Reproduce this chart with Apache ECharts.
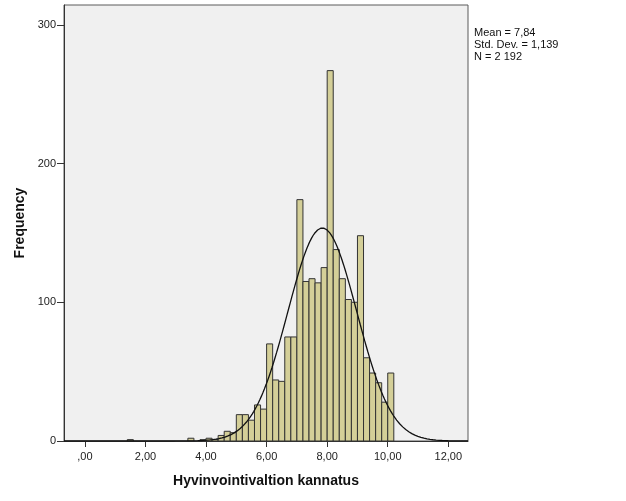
<!DOCTYPE html>
<html>
<head>
<meta charset="utf-8">
<script src="https://cdn.jsdelivr.net/npm/echarts@6/dist/echarts.min.js"></script>
<style>
html,body{margin:0;padding:0;background:#fff;}
#chart{width:626px;height:501px;}
</style>
</head>
<body>
<div id="chart"></div>
<script>
// Histogram bins (start of each 0.2-wide bin) and frequencies
var binStarts = [1.4, 3.4, 3.8, 4.0, 4.2, 4.4, 4.6, 4.8, 5.0, 5.2, 5.4, 5.6, 5.8, 6.0, 6.2, 6.4, 6.6, 6.8, 7.0, 7.2, 7.4, 7.6, 7.8, 8.0, 8.2, 8.4, 8.6, 8.8, 9.0, 9.2, 9.4, 9.6, 9.8, 10.0];
var counts    = [1,   2,   1,   2,   1,   4,   7,   6,   19,  19,  15,  26,  23,  70,  44,  43,  75,  75,  174, 115, 117, 114, 125, 267, 138, 117, 102, 100, 148, 60,  49,  42,  28,  49];
var binWidth = 0.2;

// Summary statistics shown in the chart
var statMean = 7.84;
var statSD = 1.139;
var statN = 2192;

// Tick values and labels
var xTicks = [0, 2, 4, 6, 8, 10, 12];
var xTickLabels = [",00", "2,00", "4,00", "6,00", "8,00", "10,00", "12,00"];
var yTicks = [0, 100, 200, 300];
var yTickLabels = ["0", "100", "200", "300"];

var xMin = -0.69, xMax = 12.65, yMax = 314.3;

var barData = binStarts.map(function (s, i) { return [s, s + binWidth, counts[i]]; });

// Fitted normal curve from the displayed statistics
var curve = [];
for (var k = 0; k <= 266; k++) {
  var x = xMin + k * (xMax - xMin) / 266;
  var z = (x - statMean) / statSD;
  curve.push([x, statN * binWidth / (statSD * Math.sqrt(2 * Math.PI)) * Math.exp(-0.5 * z * z)]);
}

var chart = echarts.init(document.getElementById('chart'), null, {renderer: 'canvas'});
var font = 'Liberation Sans, Arial, sans-serif';
chart.setOption({
  animation: false,
  textStyle: {fontFamily: font},
  grid: {left: 64, right: 158, top: 5, bottom: 60, show: true, backgroundColor: '#f0f0f0', borderColor: '#5a5a5a', borderWidth: 1},
  xAxis: {
    type: 'value', min: xMin, max: xMax,
    splitLine: {show: false},
    axisLine: {show: true, onZero: false, lineStyle: {color: '#333', width: 1}},
    axisTick: {show: true, length: 6, customValues: xTicks, lineStyle: {color: '#333'}},
    axisLabel: {customValues: xTicks, color: '#222', fontSize: 11, fontFamily: font, margin: 10,
      formatter: function (v) { var i = xTicks.indexOf(Math.round(v)); return i >= 0 ? xTickLabels[i] : ''; }},
    name: 'Hyvinvointivaltion kannatus', nameLocation: 'middle', nameGap: 33,
    nameTextStyle: {fontSize: 14, fontWeight: 'bold', color: '#111', fontFamily: font}
  },
  yAxis: {
    type: 'value', min: 0, max: yMax,
    splitLine: {show: false},
    axisLine: {show: true, onZero: false, lineStyle: {color: '#333', width: 1}},
    axisTick: {show: true, length: 7, customValues: yTicks, lineStyle: {color: '#333'}},
    axisLabel: {customValues: yTicks, color: '#222', fontSize: 11, fontFamily: font, margin: 8,
      formatter: function (v) { var i = yTicks.indexOf(Math.round(v)); return i >= 0 ? yTickLabels[i] : ''; }},
    name: 'Frequency', nameLocation: 'middle', nameGap: 34, nameRotate: 90,
    nameTextStyle: {fontSize: 14, fontWeight: 'bold', color: '#111', fontFamily: font}
  },
  series: [{
    type: 'custom',
    data: barData,
    renderItem: function (params, api) {
      var p0 = api.coord([api.value(0), api.value(2)]);
      var p1 = api.coord([api.value(1), 0]);
      return {
        type: 'rect',
        shape: {x: p0[0], y: p0[1], width: p1[0] - p0[0], height: p1[1] - p0[1]},
        style: {fill: '#d4cf98', stroke: '#333', lineWidth: 1}
      };
    },
    z: 2
  }, {
    type: 'line', data: curve, showSymbol: false, smooth: false,
    lineStyle: {color: '#111', width: 1.3}, z: 3, clip: true
  }],
  graphic: [{
    type: 'text', left: 474, top: 27,
    style: {text: 'Mean = 7,84\nStd. Dev. = 1,139\nN = 2 192', fontSize: 11, lineHeight: 12, fill: '#111', fontFamily: font}
  }]
});
</script>
</body>
</html>
